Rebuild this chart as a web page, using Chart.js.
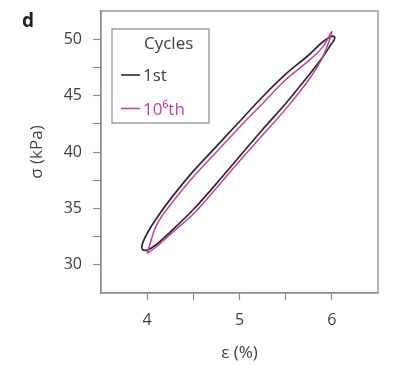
<!DOCTYPE html>
<html>
<head>
<meta charset="utf-8">
<script src="https://cdn.jsdelivr.net/npm/chart.js@4/dist/chart.umd.min.js"></script>
<style>
  html,body{margin:0;padding:0;background:#fff;}
  #wrap{width:395px;height:368px;position:relative;}
</style>
</head>
<body>
<div id="wrap"><canvas id="c" width="395" height="368"></canvas></div>
<script>
// ---- data ----
const seriesLabels = ['1st', '10\u2076th'];
const seriesColors = ['#2a2a2a', '#c4409f'];

// 1st cycle loop (strain %, stress kPa)
const firstX = [3.94, 3.96, 4.0, 4.1, 4.25, 4.5, 4.75, 5.0, 5.25, 5.5, 5.75, 5.9, 5.98, 6.025, 6.03, 6.0, 5.9, 5.75, 5.5, 5.25, 5.0, 4.75, 4.5, 4.25, 4.1, 4.0, 3.95, 3.94];
const firstY = [31.45, 31.3, 31.3, 31.8, 32.9, 34.9, 37.2, 39.6, 42.0, 44.3, 46.8, 48.4, 49.4, 49.95, 50.2, 50.25, 49.75, 48.6, 46.9, 44.9, 42.7, 40.5, 38.3, 35.8, 34.1, 32.8, 31.9, 31.45];

// 10^6th cycle loop
const millionX = [4.0, 4.1, 4.25, 4.5, 4.75, 5.0, 5.25, 5.5, 5.75, 5.9, 6.0, 5.9, 5.75, 5.5, 5.25, 5.0, 4.75, 4.5, 4.25, 4.1, 4.0];
const millionY = [31.0, 31.6, 32.7, 34.5, 36.8, 39.2, 41.5, 43.8, 46.4, 48.4, 50.65, 49.3, 48.1, 46.4, 44.3, 42.2, 40.0, 37.8, 35.3, 33.5, 31.0];

const xTickLabels = [4, 5, 6];
const yTickLabels = [30, 35, 40, 45, 50];
const xRange = [3.5, 6.5];
const yRange = [27.5, 52.5];

// ---- build ----
const toPts = (xs, ys) => xs.map((x, i) => ({x: x, y: ys[i]}));
const FONT = "'Open Sans', 'DejaVu Sans', sans-serif";
const AXIS = '#8c8c8c';
const TXT = '#404040';

const frame = {
  id: 'frame',
  afterDraw(chart) {
    const {ctx, chartArea: a} = chart;
    ctx.save();
    ctx.strokeStyle = AXIS;
    ctx.lineWidth = 1.3;
    ctx.strokeRect(a.left, a.top, a.right - a.left, a.bottom - a.top);
    // panel letter
    ctx.fillStyle = '#222';
    ctx.font = "bold 19px " + FONT;
    ctx.textBaseline = 'alphabetic';
    ctx.fillText('d', 22, 27);
    // legend box
    const lx = 112, ly = 29, lw = 97, lh = 94;
    ctx.fillStyle = '#fff';
    ctx.fillRect(lx, ly, lw, lh);
    ctx.strokeStyle = '#8c8c8c';
    ctx.lineWidth = 1.2;
    ctx.strokeRect(lx, ly, lw, lh);
    ctx.font = "17px " + FONT;
    ctx.fillStyle = TXT;
    ctx.fillText('Cycles', 144, 49);
    const ds = chart.data.datasets;
    const order = [1, 0];
    order.forEach((di, k) => {
      const d = ds[di];
      const yy = 75 + k * 33.5;
      ctx.strokeStyle = d.borderColor;
      ctx.lineWidth = 1.6;
      ctx.beginPath();
      ctx.moveTo(121, yy);
      ctx.lineTo(140, yy);
      ctx.stroke();
      ctx.fillStyle = d.borderColor === seriesColors[0] ? TXT : d.borderColor;
      ctx.fillText(d.label, 143, yy + 6);
    });
    ctx.restore();
  }
};

const edgeColor = (min, max) => (c) => {
  const v = c.tick ? c.tick.value : null;
  if (v === null) return AXIS;
  if (Math.abs(v - min) < 1e-6 || Math.abs(v - max) < 1e-6) return 'rgba(0,0,0,0)';
  return AXIS;
};

new Chart(document.getElementById('c'), {
  type: 'scatter',
  data: {
    datasets: [
      {label: seriesLabels[1], data: toPts(millionX, millionY), borderColor: seriesColors[1], showLine: true, pointRadius: 0, borderWidth: 1.5, tension: 0.35, fill: false},
      {label: seriesLabels[0], data: toPts(firstX, firstY), borderColor: seriesColors[0], showLine: true, pointRadius: 0, borderWidth: 1.7, tension: 0.35, fill: false}
    ]
  },
  options: {
    responsive: false,
    animation: false,
    layout: {padding: {left: 0, top: 11, right: 17, bottom: 0}},
    plugins: {legend: {display: false}, tooltip: {enabled: false}},
    scales: {
      x: {
        type: 'linear', min: xRange[0], max: xRange[1],
        afterFit: (s) => { s.height = 75; s.paddingLeft = 0; s.paddingRight = 0; },
        ticks: {
          stepSize: 0.5, autoSkip: false, maxRotation: 0, padding: 11,
          color: TXT, font: {family: FONT, size: 16},
          callback: (v) => xTickLabels.includes(v) ? String(v) : ''
        },
        grid: {drawOnChartArea: false, drawTicks: true, tickLength: 7, tickColor: edgeColor(xRange[0], xRange[1]), tickWidth: 1.2},
        border: {color: AXIS, width: 1.3},
        title: {display: true, text: '\u03b5 (%)', color: TXT, font: {family: FONT, size: 17}, padding: {top: 0, bottom: 5}}
      },
      y: {
        type: 'linear', min: yRange[0], max: yRange[1],
        afterFit: (s) => { s.width = 101; s.paddingTop = 0; s.paddingBottom = 0; },
        ticks: {
          stepSize: 2.5, autoSkip: false, padding: 11,
          color: TXT, font: {family: FONT, size: 16},
          callback: (v) => yTickLabels.includes(v) ? String(v) : ''
        },
        grid: {drawOnChartArea: false, drawTicks: true, tickLength: 8, tickColor: edgeColor(yRange[0], yRange[1]), tickWidth: 1.2},
        border: {color: AXIS, width: 1.3},
        title: {display: true, text: '\u03c3 (kPa)', color: TXT, font: {family: FONT, size: 17}, padding: {top: 27, bottom: 0}}
      }
    }
  },
  plugins: [frame]
});
</script>
</body>
</html>
